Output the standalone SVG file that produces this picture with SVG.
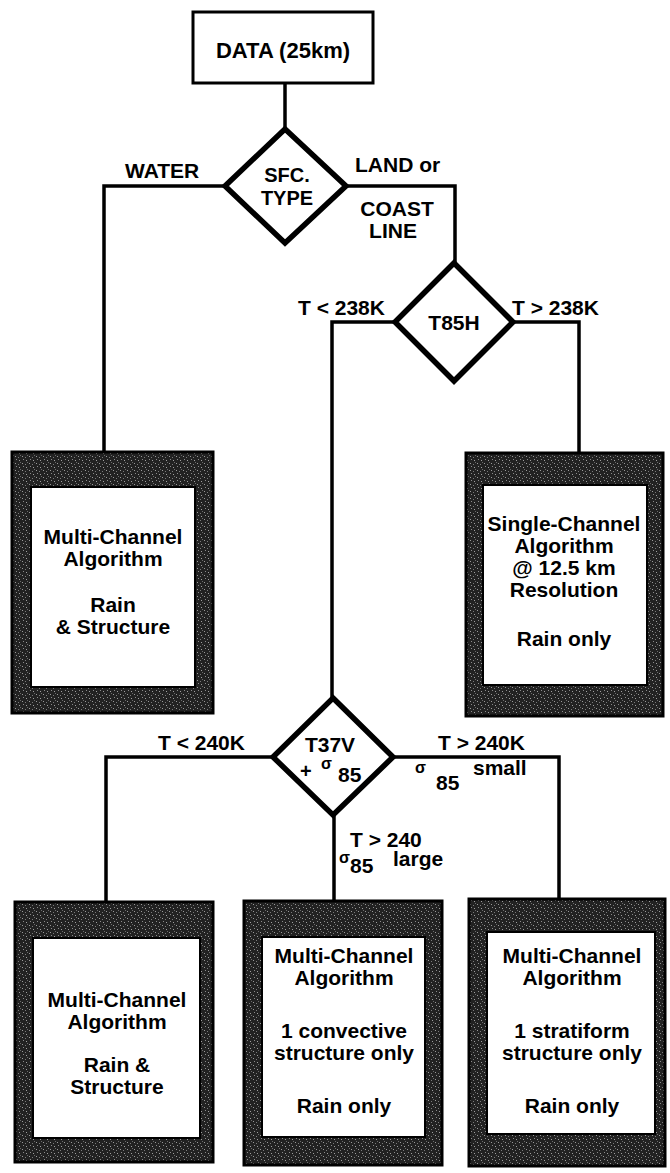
<svg xmlns="http://www.w3.org/2000/svg" width="670" height="1173" viewBox="0 0 670 1173">
  <style>
    text { font-family: "Liberation Sans", Arial, sans-serif; font-weight: bold; fill: #000; }
    .lbl { font-size: 21px; }
    .box { font-size: 21px; text-anchor: middle; }
    .sig { font-size: 16px; }
    .conn { fill: none; stroke: #000; stroke-width: 3.5; stroke-linejoin: miter; }
    .dia { fill: #fff; stroke: #000; stroke-width: 5.5; stroke-linejoin: miter; }
    .outer { fill: url(#stipple); stroke: #000; stroke-width: 3; }
    .inner { fill: #fff; stroke: #000; stroke-width: 2; }
  </style>
  <defs>
    <pattern id="stipple" width="7" height="7" patternUnits="userSpaceOnUse">
      <rect width="7" height="7" fill="#222"/>
      <rect x="1" y="1" width="1" height="1" fill="#9a9a9a"/>
      <rect x="4" y="2" width="1" height="1" fill="#7a7a7a"/>
      <rect x="2" y="4" width="1" height="1" fill="#8a8a8a"/>
      <rect x="5" y="5" width="1" height="1" fill="#a0a0a0"/>
      <rect x="6" y="0" width="1" height="1" fill="#6a6a6a"/>
    </pattern>
  </defs>
  <rect width="670" height="1173" fill="#fff"/>

  <g id="connectors">
    <line class="conn" x1="285" y1="83" x2="285" y2="130"/>
    <polyline class="conn" points="225,186 104,186 104,452"/>
    <polyline class="conn" points="346,186 455,186 455,264"/>
    <polyline class="conn" points="395,322 332,322 332,698"/>
    <polyline class="conn" points="513,322 579,322 579,453"/>
    <polyline class="conn" points="273,757 106,757 106,902"/>
    <polyline class="conn" points="393,757 559,757 559,899"/>
    <line class="conn" x1="334" y1="815" x2="334" y2="901"/>
  </g>

  <g id="labels">
    <text class="lbl" x="125" y="178">WATER</text>
    <text class="lbl" x="355" y="172">LAND or</text>
    <text class="lbl" x="397" y="216" text-anchor="middle">COAST</text>
    <text class="lbl" x="393" y="238" text-anchor="middle">LINE</text>
    <text class="lbl" x="298" y="315">T &lt; 238K</text>
    <text class="lbl" x="512" y="315">T &gt; 238K</text>
    <text class="lbl" x="158" y="750">T &lt; 240K</text>
    <text class="lbl" x="438" y="750">T &gt; 240K</text>
    <text class="sig" x="415" y="773">σ</text>
    <text class="lbl" x="436" y="790">85</text>
    <text class="lbl" x="473" y="775">small</text>
    <text class="lbl" x="350" y="847">T &gt; 240</text>
    <text class="sig" x="339" y="863">σ</text>
    <text class="lbl" x="350" y="873">85</text>
    <text class="lbl" x="393" y="866">large</text>
  </g>

  <g id="data">
    <rect x="193" y="12" width="180" height="71" fill="#fff" stroke="#000" stroke-width="3"/>
    <text x="283" y="58" font-size="22" text-anchor="middle">DATA (25km)</text>
  </g>

  <g id="sfc-type">
    <polygon class="dia" points="285,129 346,186 285,243 225,186"/>
    <text x="287" y="182" font-size="20" text-anchor="middle">SFC.</text>
    <text x="287" y="205" font-size="20" text-anchor="middle">TYPE</text>
  </g>

  <g id="t85h">
    <polygon class="dia" points="454,263 513,322 454,381 395,322"/>
    <text x="454" y="330" font-size="21" text-anchor="middle">T85H</text>
  </g>

  <g id="t37v">
    <polygon class="dia" points="333,698 393,757 333,815 273,757"/>
    <text x="330" y="752" font-size="21" text-anchor="middle">T37V</text>
    <text x="300" y="778" font-size="20">+</text>
    <text class="sig" x="321" y="769">σ</text>
    <text x="338" y="782" font-size="21">85</text>
  </g>

  <g id="box-water">
    <rect class="outer" x="12" y="452" width="201" height="261"/>
    <rect class="inner" x="31" y="487" width="164" height="200"/>
    <text class="box" x="113" y="544">Multi-Channel</text>
    <text class="box" x="113" y="566">Algorithm</text>
    <text class="box" x="113" y="612">Rain</text>
    <text class="box" x="113" y="634">&amp; Structure</text>
  </g>

  <g id="box-single">
    <rect class="outer" x="466" y="453" width="197" height="263"/>
    <rect class="inner" x="483" y="485" width="164" height="200"/>
    <text class="box" x="564" y="531">Single-Channel</text>
    <text class="box" x="564" y="553">Algorithm</text>
    <text class="box" x="564" y="575">@ 12.5 km</text>
    <text class="box" x="564" y="597">Resolution</text>
    <text class="box" x="564" y="646">Rain only</text>
  </g>

  <g id="box-cold">
    <rect class="outer" x="15" y="902" width="198" height="260"/>
    <rect class="inner" x="33" y="938" width="167" height="200"/>
    <text class="box" x="117" y="1007">Multi-Channel</text>
    <text class="box" x="117" y="1029">Algorithm</text>
    <text class="box" x="117" y="1072">Rain &amp;</text>
    <text class="box" x="117" y="1094">Structure</text>
  </g>

  <g id="box-convective">
    <rect class="outer" x="244" y="901" width="198" height="264"/>
    <rect class="inner" x="262" y="937" width="163" height="200"/>
    <text class="box" x="344" y="963">Multi-Channel</text>
    <text class="box" x="344" y="985">Algorithm</text>
    <text class="box" x="344" y="1038">1 convective</text>
    <text class="box" x="344" y="1060">structure only</text>
    <text class="box" x="344" y="1113">Rain only</text>
  </g>

  <g id="box-stratiform">
    <rect class="outer" x="469" y="899" width="196" height="267"/>
    <rect class="inner" x="487" y="932" width="168" height="202"/>
    <text class="box" x="572" y="963">Multi-Channel</text>
    <text class="box" x="572" y="985">Algorithm</text>
    <text class="box" x="572" y="1038">1 stratiform</text>
    <text class="box" x="572" y="1060">structure only</text>
    <text class="box" x="572" y="1113">Rain only</text>
  </g>
</svg>
